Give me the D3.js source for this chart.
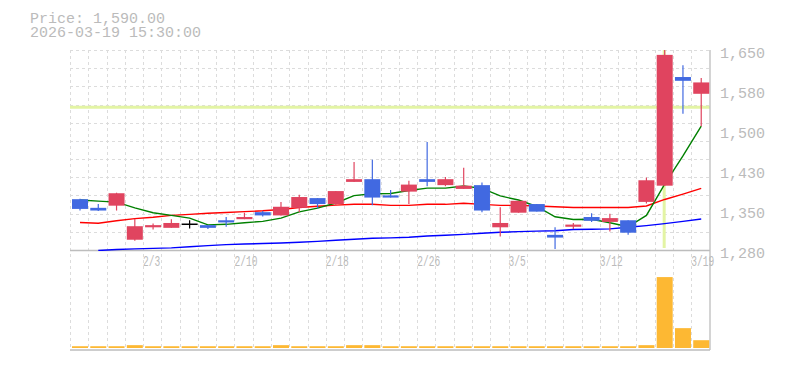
<!DOCTYPE html>
<html>
<head>
<meta charset="utf-8">
<script src="https://cdn.jsdelivr.net/npm/d3@7"></script>
<style>
  html, body { margin: 0; padding: 0; background: #fff; }
  svg { display: block; }
  text { font-family: "Liberation Mono", "DejaVu Sans Mono", monospace; }
</style>
</head>
<body>
<div id="chart"></div>
<script>
// ---- data ----
const dates = ["1/28","1/29","1/30","2/2","2/3","2/4","2/5","2/6","2/9","2/10","2/12","2/13","2/16","2/17","2/18","2/19","2/20","2/24","2/25","2/26","2/27","3/2","3/3","3/4","3/5","3/6","3/9","3/10","3/11","3/12","3/13","3/16","3/17","3/18","3/19"];
const open  = [1374,1358,1362,1299,1322,1321,1329,1326,1335,1337,1350,1344,1358,1376,1365,1406,1411,1381,1388,1411,1400,1393,1400,1322,1349,1365,1308,1323,1341,1332,1335,1369,1399,1600,1569];
const high  = [1375,1365,1386,1338,1329,1337,1335,1326,1341,1349,1352,1369,1382,1376,1389,1443,1447,1391,1408,1480,1415,1432,1405,1359,1371,1365,1322,1330,1348,1347,1335,1414,1650,1622,1598];
const low   = [1353,1352,1353,1297,1318,1321,1320,1319,1323,1337,1342,1344,1350,1357,1363,1406,1363,1377,1365,1398,1398,1393,1350,1305,1349,1351,1282,1319,1332,1314,1308,1366,1399,1532,1509];
const close = [1356,1353,1385,1324,1326,1330,1329,1321,1331,1341,1344,1360,1378,1365,1389,1411,1377,1377,1401,1406,1411,1399,1353,1330,1371,1351,1303,1327,1334,1339,1312,1409,1641,1593,1590];
const volume = [25,25,25,40,25,25,25,25,25,25,25,40,25,25,25,40,40,25,25,25,25,25,25,25,25,25,25,25,25,25,25,40,1000,280,110];
const maShort = [1372.5,1370.5,1368.5,1358,1349,1344,1339,1326.5,1327.5,1330.5,1333,1339,1350.5,1357.5,1367,1380.5,1384,1384.5,1390,1394.5,1394.5,1398.5,1394,1380,1372.5,1360.5,1341.5,1336.5,1337,1330.5,1323,1344,1402,1454,1509];
const maMid = [1331,1329.5,1334,1338,1340.5,1344,1346,1348,1349.5,1351,1352.5,1355,1358.5,1361,1363,1364.5,1364.5,1362.5,1362.5,1364.5,1364.5,1366.5,1364.5,1362.5,1362.5,1361.5,1360,1358.5,1358.5,1358.5,1358.5,1361.5,1373.5,1383.5,1394];
const maLong = [null,1279,1281,1282,1283,1284,1286,1288,1290,1291,1292,1293,1294.2,1296,1298,1300,1301.6,1302.5,1303.5,1306,1307.2,1309,1311,1312.7,1314,1315,1315.5,1318,1318.5,1319,1322,1325,1328.7,1333,1337.4];
const xTickLabels = ["2/3","2/10","2/18","2/26","3/5","3/12","3/19"];
const yTickValues = [1650,1576,1502,1428,1354,1280];
const yTickLabels = ["1,650","1,580","1,500","1,430","1,350","1,280"];
const priceDomain = [1280,1650];
const highlightDate = "3/17";
const highlightPrice = 1544;
const headerLines = ["Price: 1,590.00","2026-03-19 15:30:00"];

// ---- layout ----
const W = 785, H = 370;
const L = 70, R = 709.5, PT = 50, PB = 250, VB = 350;
const svg = d3.select("#chart").append("svg").attr("width", W).attr("height", H);
svg.append("rect").attr("width", W).attr("height", H).attr("fill", "#fff");

const x = d3.scaleBand().domain(dates).range([L, R]).padding(0);
const bw = x.bandwidth();
const cx = d => x(d) + 10;
const y = d3.scaleLinear().domain(priceDomain).range([PB, PT]);
const yv = d3.scaleLinear().domain([0, 1100]).range([348, 270]);

const gridColor = "#dcdcdc";
const axisColor = "#bdbdbd";
const textColor = "#bbbbbb";

// grid
const g = svg.append("g");
const nH = 11;
const hVals = d3.range(nH + 1).map(k => priceDomain[0] + k * (priceDomain[1] - priceDomain[0]) / nH);
g.selectAll("line.h").data(hVals).join("line")
  .attr("x1", L).attr("x2", 710)
  .attr("y1", d => Math.round(y(d)) + 0.5).attr("y2", d => Math.round(y(d)) + 0.5)
  .attr("stroke", gridColor).attr("stroke-dasharray", "3,3");
g.selectAll("line.v").data(dates).join("line")
  .attr("x1", d => Math.round(x(d)) + 0.5).attr("x2", d => Math.round(x(d)) + 0.5)
  .attr("y1", PT).attr("y2", VB)
  .attr("stroke", gridColor).attr("stroke-dasharray", "3,3");

// highlight (crosshair)
const hl = "#e3f4a4";
svg.append("line").attr("x1", L).attr("x2", 710)
  .attr("y1", y(highlightPrice)).attr("y2", y(highlightPrice))
  .attr("stroke", hl).attr("stroke-width", 3);
svg.append("line").attr("x1", cx(highlightDate) - 0.5).attr("x2", cx(highlightDate) - 0.5)
  .attr("y1", PT).attr("y2", 248)
  .attr("stroke", hl).attr("stroke-width", 3);

// axis lines
svg.append("line").attr("x1", L).attr("x2", 710).attr("y1", PB + 0.5).attr("y2", PB + 0.5)
  .attr("stroke", axisColor).attr("stroke-width", 1.3);
svg.append("line").attr("x1", L).attr("x2", 710).attr("y1", VB).attr("y2", VB)
  .attr("stroke", axisColor).attr("stroke-width", 1.3);
svg.append("line").attr("x1", 710).attr("x2", 710).attr("y1", PT).attr("y2", VB)
  .attr("stroke", axisColor).attr("stroke-width", 1.3);

// clip for price panel
svg.append("clipPath").attr("id", "pclip").append("rect")
  .attr("x", L).attr("y", PT).attr("width", 710 - L).attr("height", PB - PT + 1);

// moving averages
const maG = svg.append("g").attr("clip-path", "url(#pclip)");
function drawMA(arr, color) {
  const line = d3.line()
    .defined(d => d[1] != null)
    .x(d => cx(d[0])).y(d => y(d[1]));
  maG.append("path").datum(dates.map((d, i) => [d, arr[i]]))
    .attr("d", line).attr("fill", "none").attr("stroke", color).attr("stroke-width", 1.4);
}
drawMA(maLong, "#0000ff");
drawMA(maMid, "#ff0000");
drawMA(maShort, "#008000");

// candles
const upC = "#e0445f", downC = "#4169e1", flatC = "#000000";
const colorOf = i => close[i] > open[i] ? upC : (close[i] < open[i] ? downC : flatC);
const cg = svg.append("g").attr("clip-path", "url(#pclip)");
dates.forEach((d, i) => {
  const c = colorOf(i);
  cg.append("line").attr("x1", cx(d)).attr("x2", cx(d))
    .attr("y1", y(high[i])).attr("y2", y(low[i]))
    .attr("stroke", c).attr("stroke-width", 1.2);
  const top = y(Math.max(open[i], close[i]));
  const bot = y(Math.min(open[i], close[i]));
  cg.append("rect").attr("x", x(d) + 2).attr("width", 16)
    .attr("y", top).attr("height", Math.max(bot - top, 1.5))
    .attr("fill", c);
});

// volume
svg.append("g").selectAll("rect").data(dates).join("rect")
  .attr("x", d => x(d) + 2).attr("width", 16)
  .attr("y", (d, i) => yv(volume[i]))
  .attr("height", (d, i) => yv(0) - yv(volume[i]))
  .attr("fill", "#fdb833");

// y labels
svg.append("g").selectAll("text").data(yTickValues).join("text")
  .attr("x", 720).attr("y", d => y(d) + 8)
  .attr("font-size", 15).attr("fill", textColor)
  .text((d, i) => yTickLabels[i]);

// x labels
svg.append("g").selectAll("text").data(xTickLabels).join("text")
  .attr("x", d => x(d)).attr("y", 266.3)
  .attr("font-size", 14).attr("fill", textColor)
  .attr("textLength", d => d.length * 5.75).attr("lengthAdjust", "spacingAndGlyphs")
  .text(d => d);

// header
svg.append("g").selectAll("text").data(headerLines).join("text")
  .attr("x", 30).attr("y", (d, i) => 22.5 + i * 14.2)
  .attr("font-size", 15).attr("fill", textColor)
  .text(d => d);
</script>
</body>
</html>
